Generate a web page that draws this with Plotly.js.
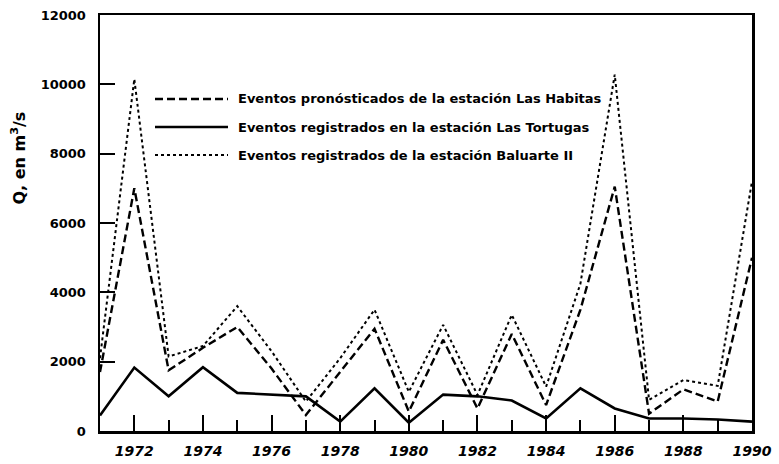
<!DOCTYPE html>
<html>
<head>
<meta charset="utf-8">
<script src="https://cdn.plot.ly/plotly-3.0.1.min.js"></script>
<style>html,body{margin:0;padding:0;background:#fff;}#chart{width:779px;height:464px;}</style>
</head>
<body>
<div id="chart"></div>
<script>
var years = [1971, 1972, 1973, 1974, 1975, 1976, 1977, 1978, 1979, 1980, 1981, 1982, 1983, 1984, 1985, 1986, 1987, 1988, 1989, 1990];
var habitas = [1700, 7000, 1750, 2400, 3000, 1800, 460, 1700, 2950, 560, 2630, 650, 2800, 750, 3500, 7050, 500, 1200, 850, 5000];
var tortugas = [450, 1830, 1000, 1840, 1100, 1050, 1000, 270, 1230, 240, 1050, 1000, 880, 360, 1230, 650, 360, 360, 330, 270];
var baluarte = [2100, 10150, 2150, 2450, 3600, 2300, 850, 2100, 3500, 1130, 3060, 1040, 3350, 1280, 4250, 10280, 900, 1470, 1300, 7200];
var seriesNames = [
  "Eventos pronósticados de la estación Las Habitas",
  "Eventos registrados en la estación Las Tortugas",
  "Eventos registrados de la estación Baluarte II"
];
var yTickVals = [0, 2000, 4000, 6000, 8000, 10000, 12000];
var xTickVals = [1972, 1974, 1976, 1978, 1980, 1982, 1984, 1986, 1988, 1990];

var FONT = "DejaVu Sans, Liberation Sans, sans-serif";
var dashStyles = ["8px,4px", "solid", "3px,3px"];
var widths = [2.4, 2.6, 2.0];
var allSeries = [habitas, tortugas, baluarte];

var traces = allSeries.map(function (vals, i) {
  return {
    x: years, y: vals, type: "scatter", mode: "lines", name: seriesNames[i],
    line: { color: "#000", width: widths[i], dash: dashStyles[i] },
    showlegend: false, hoverinfo: "skip"
  };
});

var legendX0 = (155 - 100) / 652, legendX1 = (228 - 100) / 652, legendTextX = (236 - 100) / 652;
var legendY = [(431 - 99) / 416, (431 - 127) / 416, (431 - 155) / 416];
var shapes = [], annotations = [];
for (var i = 0; i < 3; i++) {
  shapes.push({ type: "line", xref: "paper", yref: "paper", x0: legendX0, x1: legendX1, y0: legendY[i], y1: legendY[i],
    line: { color: "#000", width: widths[i], dash: dashStyles[i] } });
  annotations.push({ xref: "paper", yref: "paper", x: legendTextX, y: legendY[i], xanchor: "left", yanchor: "middle",
    text: seriesNames[i], showarrow: false, font: { family: FONT, size: 13, color: "#000", weight: "bold" } });
}
annotations.push({ xref: "paper", yref: "paper", x: -0.125, y: (431 - 158) / 416, xanchor: "center", yanchor: "middle",
  text: "Q, en m<sup>3</sup>/s", textangle: -90, showarrow: false, font: { family: FONT, size: 16, color: "#000", weight: "bold" } });

var layout = {
  width: 779, height: 464,
  margin: { l: 100, r: 27, t: 15, b: 33, pad: 0 },
  paper_bgcolor: "#fff", plot_bgcolor: "#fff",
  showlegend: false,
  xaxis: {
    range: [1971, 1990], tickmode: "array", tickvals: xTickVals, ticktext: xTickVals.map(String),
    ticks: "inside", ticklen: 16, tickwidth: 2, tickcolor: "#000", ticklabelstandoff: 6,
    minor: { tickmode: "linear", tick0: 1971, dtick: 1, ticks: "inside", ticklen: 11, tickwidth: 2, tickcolor: "#000" },
    showline: true, linewidth: 2.5, linecolor: "#000", mirror: true,
    showgrid: false, zeroline: false,
    tickfont: { family: FONT, size: 14, color: "#000", weight: "bold", style: "italic" }
  },
  yaxis: {
    range: [0, 12000], tickmode: "array", tickvals: yTickVals, ticktext: yTickVals.map(String),
    ticks: "inside", ticklen: 15, tickwidth: 2, tickcolor: "#000", ticklabelstandoff: 9,
    showline: true, linewidth: 2.5, linecolor: "#000", mirror: true,
    showgrid: false, zeroline: false,
    tickfont: { family: FONT, size: 13, color: "#000", weight: "bold" }
  },
  shapes: shapes,
  annotations: annotations
};

Plotly.newPlot("chart", traces, layout, { staticPlot: true, displayModeBar: false });
</script>
</body>
</html>
